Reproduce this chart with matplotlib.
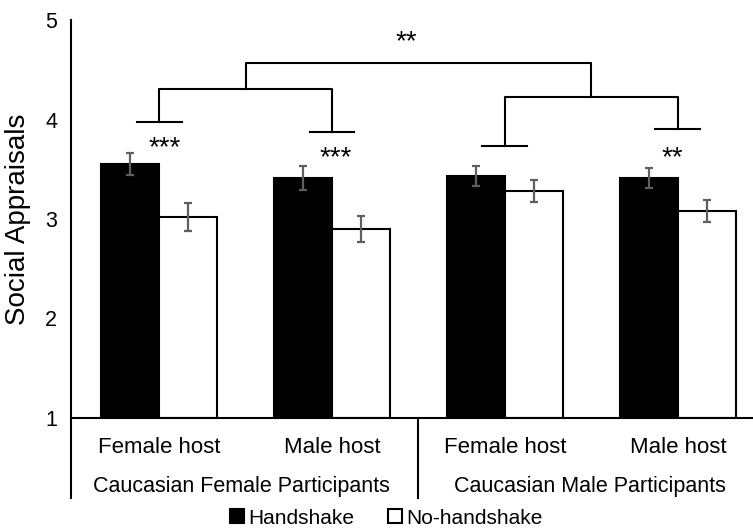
import numpy as np
import matplotlib.pyplot as plt
from matplotlib.patches import Patch

plt.rcParams['font.family'] = ['Liberation Sans', 'DejaVu Sans']

hosts = ['Female host', 'Male host', 'Female host', 'Male host']
groups = ['Caucasian Female Participants', 'Caucasian Male Participants']
handshake = [3.55, 3.41, 3.43, 3.41]
handshake_err = [0.11, 0.12, 0.10, 0.10]
no_handshake = [3.02, 2.90, 3.28, 3.08]
no_handshake_err = [0.14, 0.13, 0.11, 0.115]

fig = plt.figure(figsize=(7.53, 5.32), dpi=100)
ax = fig.add_axes([71 / 753, 1 - 418 / 532, 682 / 753, 398 / 532])

x = np.arange(len(hosts))
w = 0.335
ekw = dict(ecolor='#5f5f5f', elinewidth=1.6, capsize=2.6, capthick=1.6)
ax.bar(x - w / 2, [v - 1 for v in handshake], w, bottom=1, color='black',
       edgecolor='black', linewidth=1.5, yerr=handshake_err, error_kw=ekw)
ax.bar(x + w / 2, [v - 1 for v in no_handshake], w, bottom=1, color='white',
       edgecolor='black', linewidth=1.5, yerr=no_handshake_err, error_kw=ekw)

ax.set_xlim(-0.509, 3.434)
ax.set_ylim(1, 5)
ax.set_yticks([1, 2, 3, 4, 5])
ax.set_xticks([])
ax.tick_params(axis='y', length=0, pad=10, labelsize=15.5)
for s in ['top', 'right', 'left']:
    ax.spines[s].set_visible(False)
ax.spines['bottom'].set_linewidth(1.5)
ax.set_ylabel('Social Appraisals', fontsize=20)
ax.yaxis.set_label_coords(-0.058, 0.5)

# left axis line and group separator extend below the plot
ax.plot([-0.509, -0.509], [0.196, 5], color='black', lw=1.5, clip_on=False)
ax.plot([1.5, 1.5], [0.196, 1], color='black', lw=1.5, clip_on=False)

for i, h in enumerate(hosts):
    ax.text(i, 0.648, h, ha='center', va='baseline', fontsize=16)
ax.text(0.475, 0.256, groups[0], ha='center', va='baseline', fontsize=15.5)
ax.text(2.49, 0.256, groups[1], ha='center', va='baseline', fontsize=15.5)

# significance brackets
lk = dict(color='black', lw=1.5)
hw = 0.13
ax.plot([0 - hw, 0 + hw], [3.975, 3.975], **lk)
ax.plot([1 - hw, 1 + hw], [3.874, 3.874], **lk)
ax.plot([0, 0, 1, 1], [3.975, 4.307, 4.307, 3.874], **lk)
ax.plot([2 - hw, 2 + hw], [3.734, 3.734], **lk)
ax.plot([3 - hw, 3 + hw], [3.905, 3.905], **lk)
ax.plot([2, 2, 3, 3], [3.734, 4.226, 4.226, 3.905], **lk)
ax.plot([0.5, 0.5, 2.5, 2.5], [4.307, 4.568, 4.568, 4.226], **lk)

sk = dict(ha='center', va='baseline', fontsize=20)
ax.text(0.03, 3.64, '***', **sk)
ax.text(1.02, 3.54, '***', **sk)
ax.text(2.97, 3.54, '**', **sk)
ax.text(1.43, 4.71, '**', **sk)

handles = [Patch(facecolor='black', edgecolor='black', linewidth=1.5),
           Patch(facecolor='white', edgecolor='black', linewidth=1.5)]
fig.legend(handles, ['Handshake', 'No-handshake'], loc='center',
           bbox_to_anchor=(0.513, 1 - 518 / 532), ncol=2, frameon=False,
           fontsize=15, handlelength=0.67, handleheight=0.67,
           handletextpad=0.2, columnspacing=1.65, borderaxespad=0)

fig.savefig('out.png', dpi=100)
